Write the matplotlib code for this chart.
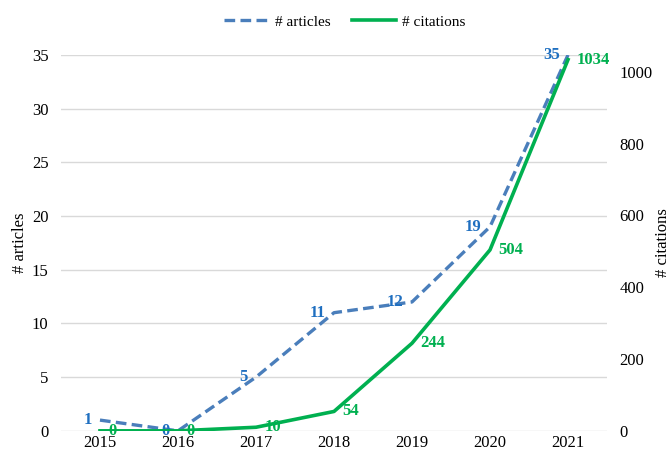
import matplotlib.pyplot as plt

plt.rcParams["font.family"] = ["Liberation Serif", "DejaVu Serif"]

years = ["2015", "2016", "2017", "2018", "2019", "2020", "2021"]
articles = [1, 0, 5, 11, 12, 19, 35]
citations = [0, 0, 10, 54, 244, 504, 1034]

blue = "#4A7EBB"
blue_text = "#1F6FC0"
green = "#00B050"
grid_col = "#D9D9D9"

fig = plt.figure(figsize=(6.7, 4.54), dpi=100)
ax = fig.add_axes([0.091, 0.051, 0.815, 0.828])
ax2 = ax.twinx()

x = list(range(len(years)))

ax.plot(x, articles, color=blue, lw=2.4, ls=(0, (3.2, 1.6)), label="# articles", zorder=3)
ax2.plot(x, citations, color=green, lw=2.6, label="# citations", zorder=3)

for xi, v in zip(x, articles):
    ax.annotate(str(v), (xi, v), xytext=(-6, 0), textcoords="offset points",
                ha="right", va="center", color=blue_text, fontweight="bold", fontsize=12)
for xi, v in zip(x, citations):
    ax2.annotate(str(v), (xi, v), xytext=(6, 0), textcoords="offset points",
                 ha="left", va="center", color=green, fontweight="bold", fontsize=12)

ax.set_xlim(-0.5, len(years) - 0.5)
ax.set_ylim(0, 35)
ax.set_yticks(range(0, 36, 5))
ax2.set_ylim(0, 1047)
ax2.set_yticks(range(0, 1001, 200))
ax.set_xticks(x)
ax.set_xticklabels(years)

ax.grid(axis="y", color=grid_col, lw=1)
ax.set_axisbelow(True)
for a in (ax, ax2):
    for s in a.spines.values():
        s.set_visible(False)
    a.tick_params(length=0, labelsize=12)
ax.tick_params(axis="y", pad=9)
ax2.tick_params(axis="y", pad=9)
ax.tick_params(axis="x", pad=3)

ax.set_ylabel("# articles", fontsize=12, labelpad=3)
ax2.set_ylabel("# citations", fontsize=12, labelpad=2)

h1, l1 = ax.get_legend_handles_labels()
h2, l2 = ax2.get_legend_handles_labels()
fig.legend(h1 + h2, l1 + l2, loc="center", bbox_to_anchor=(0.515, 0.952), ncol=2,
           frameon=False, fontsize=11, handlelength=2.9, columnspacing=1.4, handletextpad=0.4)

fig.savefig("out.png", dpi=100)
